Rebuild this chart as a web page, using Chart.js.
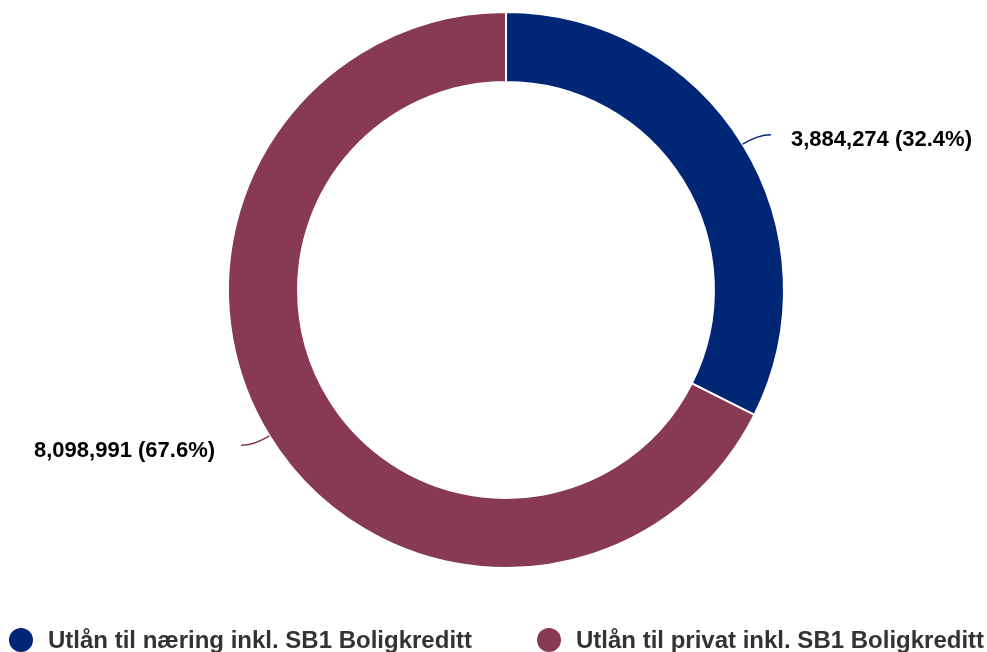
<!DOCTYPE html>
<html>
<head>
<meta charset="utf-8">
<script src="https://cdn.jsdelivr.net/npm/chart.js@4"></script>
<style>
    html, body { margin: 0; padding: 0; background: #fff; overflow: hidden; }
    #wrap { position: relative; width: 987px; height: 652px; overflow: hidden; }
    #legend { position: absolute; left: 0; top: 0; width: 987px; height: 652px; pointer-events: none; }
    .legend-item { position: absolute; top: 626px; display: flex; align-items: center;
        font: bold 24px "Liberation Sans", Arial, sans-serif; color: #333; white-space: nowrap; }
    .legend-dot { width: 24px; height: 24px; border-radius: 50%; margin-right: 15px; }
</style>
</head>
<body>
<div id="wrap">
    <canvas id="chart" width="987" height="652"></canvas>
    <div id="legend"></div>
</div>
<script>
const categories = ['Utlån til næring inkl. SB1 Boligkreditt', 'Utlån til privat inkl. SB1 Boligkreditt'];
const values = [3884274, 8098991];
const colors = ['#002776', '#873a52'];
const legendLeft = [9, 537];

// leader lines + value labels outside each slice
const sliceLabels = {
    id: 'sliceLabels',
    afterDatasetsDraw(chart) {
        const ctx = chart.ctx;
        const meta = chart.getDatasetMeta(0);
        const total = values.reduce((a, b) => a + b, 0);
        ctx.save();
        meta.data.forEach((arc, i) => {
            const mid = (arc.startAngle + arc.endAngle) / 2;
            const dx = Math.cos(mid), dy = Math.sin(mid);
            const r = arc.outerRadius;
            const x0 = arc.x + dx * r, y0 = arc.y + dy * r;
            const cx = x0 + dx * 18, cy = y0 + dy * 18;
            const side = dx >= 0 ? 1 : -1;
            const ex = cx + side * 13, ey = cy;
            ctx.beginPath();
            ctx.moveTo(x0, y0);
            ctx.quadraticCurveTo(cx, cy, ex, ey);
            ctx.strokeStyle = colors[i];
            ctx.lineWidth = 1.5;
            ctx.stroke();

            const pct = (values[i] / total * 100).toFixed(1);
            const text = values[i].toLocaleString('en-US') + ' (' + pct + '%)';
            ctx.font = 'bold 22px "Liberation Sans", Arial, sans-serif';
            ctx.fillStyle = '#000';
            ctx.textBaseline = 'middle';
            ctx.textAlign = side > 0 ? 'left' : 'right';
            ctx.fillText(text, ex + side * (side > 0 ? 20 : 26), ey + (side > 0 ? 5 : 6));
        });
        ctx.restore();
    }
};

const ctx = document.getElementById('chart').getContext('2d');
new Chart(ctx, {
    type: 'doughnut',
    data: {
        labels: categories,
        datasets: [{
            data: values,
            backgroundColor: colors,
            borderColor: '#ffffff',
            borderWidth: 2,
            hoverOffset: 0
        }]
    },
    options: {
        responsive: false,
        animation: false,
        cutout: '74.8%',
        layout: {
            padding: { top: 11, bottom: 83, left: 25, right: 0 }
        },
        plugins: {
            legend: { display: false },
            tooltip: { enabled: false }
        }
    },
    plugins: [sliceLabels]
});

// html legend at the bottom
const legend = document.getElementById('legend');
categories.forEach((name, i) => {
    const item = document.createElement('div');
    item.className = 'legend-item';
    item.style.left = legendLeft[i] + 'px';
    item.innerHTML = '<span class="legend-dot" style="background:' + colors[i] + '"></span><span>' + name + '</span>';
    legend.appendChild(item);
});
</script>
</body>
</html>
